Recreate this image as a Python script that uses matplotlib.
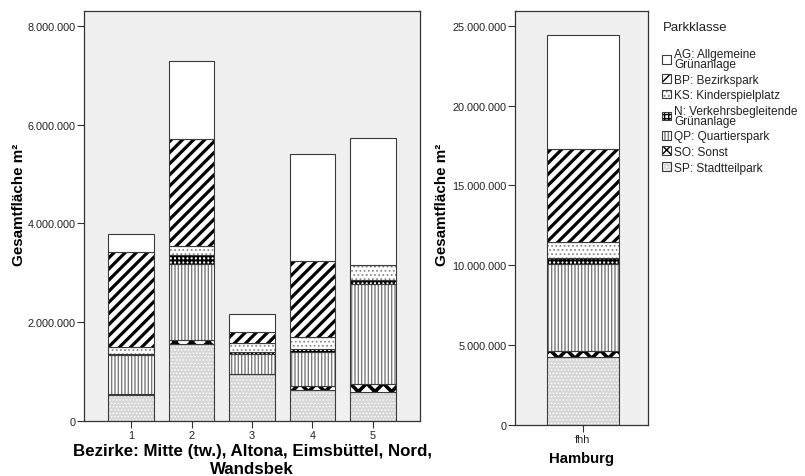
import matplotlib
matplotlib.use("Agg")
import matplotlib.pyplot as plt
import matplotlib.patches as mpatches
from matplotlib.ticker import FuncFormatter

plt.rcParams["font.family"] = ["Liberation Sans", "DejaVu Sans"]

# values in m² (stacked bottom -> top: SP, SO, QP, N, KS, BP, AG)
bezirke = ["1", "2", "3", "4", "5"]
sp = [520000, 1560000, 940000, 620000, 580000]
so = [30000, 70000, 10000, 90000, 170000]
qp = [780000, 1540000, 410000, 680000, 2020000]
n = [20000, 180000, 40000, 70000, 80000]
ks = [150000, 180000, 170000, 230000, 300000]
bp = [1910000, 2170000, 220000, 1550000, 0]
ag = [380000, 1590000, 380000, 2160000, 2580000]

hamburg = ["fhh"]
hh_sp = [4250000]
hh_so = [390000]
hh_qp = [5420000]
hh_n = [380000]
hh_ks = [1000000]
hh_bp = [5860000]
hh_ag = [7110000]

klassen = ["SP", "SO", "QP", "N", "KS", "BP", "AG"]
klassen_labels = {
    "AG": "AG: Allgemeine\nGrünanlage",
    "BP": "BP: Bezirkspark",
    "KS": "KS: Kinderspielplatz",
    "N": "N: Verkehrsbegleitende\nGrünanlage",
    "QP": "QP: Quartierspark",
    "SO": "SO: Sonst",
    "SP": "SP: Stadtteilpark",
}

# face, hatch colour, hatch, hatch linewidth
styles = {
    "SP": ("#d6d6d6", "white", ".....", 0.7),
    "SO": ("white", "black", "xx", 2.6),
    "QP": ("white", "#7a7a7a", "|||||", 1.0),
    "N": ("white", "black", "++++", 1.5),
    "KS": ("white", "#8a8a8a", "....", 0.8),
    "BP": ("white", "black", "///", 2.3),
    "AG": ("white", "white", "", 0.5),
}
OUTLINE = "#3a3a3a"


def make_patch_kw(style):
    face, hcol, hatch, hlw = style
    return dict(color=face, edgecolor=hcol, hatch=hatch, linewidth=0), hlw


def hatched_bar(ax, x, h, bottom, width, style):
    kw, hlw = make_patch_kw(style)
    with plt.rc_context({"hatch.linewidth": hlw}):
        bars = ax.bar(x, h, width, bottom=bottom, **kw)
    for b in bars:
        if hasattr(b, "set_hatch_linewidth"):
            b.set_hatch_linewidth(hlw)
    ax.bar(x, h, width, bottom=bottom, fill=False, edgecolor=OUTLINE, linewidth=0.8)


def draw_stack(ax, cats, series, width):
    x = list(range(1, len(cats) + 1))
    bottom = [0] * len(cats)
    for k, vals in zip(klassen, series):
        hatched_bar(ax, x, vals, bottom, width, styles[k])
        bottom = [b + v for b, v in zip(bottom, vals)]
    ax.set_xticks(x)
    ax.set_xticklabels(cats)


def style_axes(ax):
    ax.set_facecolor("#f0f0f0")
    for s in ax.spines.values():
        s.set_color("#333333")
        s.set_linewidth(0.9)
    ax.yaxis.set_major_formatter(FuncFormatter(lambda v, p: f"{v:,.0f}".replace(",", ".")))
    ax.tick_params(axis="y", length=5, width=0.8, pad=1, labelsize=7.8, color="#333333", labelcolor="#222222")
    ax.tick_params(axis="x", length=5, width=0.8, pad=2, labelsize=7.8, color="#333333", labelcolor="#222222")


fig = plt.figure(figsize=(8.05, 4.77), dpi=100)
ax1 = fig.add_axes([84 / 805, 1 - 421.7 / 477, 336 / 805, 409.7 / 477])
ax2 = fig.add_axes([515 / 805, 1 - 425.7 / 477, 133 / 805, 413.7 / 477])

# districts
draw_stack(ax1, bezirke, [sp, so, qp, n, ks, bp, ag], 0.76)
ax1.set_xlim(0.223, 5.777)
ax1.set_ylim(0, 8.30e6)
ax1.set_yticks([0, 2e6, 4e6, 6e6, 8e6])
style_axes(ax1)
ax1.set_ylabel("Gesamtfläche m²", fontsize=10.9, fontweight="bold", va="center")
ax1.yaxis.set_label_coords(-0.192, 0.529)
ax1.set_xlabel("Bezirke: Mitte (tw.), Altona, Eimsbüttel, Nord,\nWandsbek",
               fontsize=12.2, fontweight="bold", va="center", linespacing=1.2)
ax1.xaxis.set_label_coords(0.5, -0.0947)

# Hamburg total
draw_stack(ax2, hamburg, [hh_sp, hh_so, hh_qp, hh_n, hh_ks, hh_bp, hh_ag], 0.54)
ax2.set_xlim(0.489, 1.489)
ax2.set_ylim(0, 25.94e6)
ax2.set_yticks([0, 5e6, 10e6, 15e6, 20e6, 25e6])
style_axes(ax2)
ax2.set_ylabel("Gesamtfläche m²", fontsize=10.9, fontweight="bold", va="center")
ax2.yaxis.set_label_coords(-0.551, 0.533)
ax2.set_xlabel("Hamburg", fontsize=10.7, fontweight="bold", va="center")
ax2.xaxis.set_label_coords(0.5, -0.0812)

# legend
handles, labels = [], []
for k in ["AG", "BP", "KS", "N", "QP", "SO", "SP"]:
    kw, hlw = make_patch_kw(styles[k])
    with plt.rc_context({"hatch.linewidth": hlw}):
        p = mpatches.Patch(facecolor=kw["color"], edgecolor=kw["edgecolor"], hatch=kw["hatch"], linewidth=0)
    if hasattr(p, "set_hatch_linewidth"):
        p.set_hatch_linewidth(hlw)
    o = mpatches.Patch(fill=False, edgecolor=OUTLINE, linewidth=0.8)
    handles.append((p, o))
    labels.append(klassen_labels[k])

fig.text(663 / 805, 1 - 28 / 477, "Parkklasse", fontsize=9.5, va="center", ha="left", color="#222222")
leg = fig.legend(handles, labels, loc="upper left", bbox_to_anchor=(661.7 / 805, 1 - 49 / 477),
                 frameon=False, borderpad=0, borderaxespad=0,
                 fontsize=8.6, handlelength=0.75, handleheight=0.75,
                 handletextpad=0.3, labelspacing=0.3)
for t in leg.get_texts():
    t.set_linespacing(0.78)
    t.set_color("#222222")

fig.savefig("out.png", dpi=100)
plt.close(fig)
